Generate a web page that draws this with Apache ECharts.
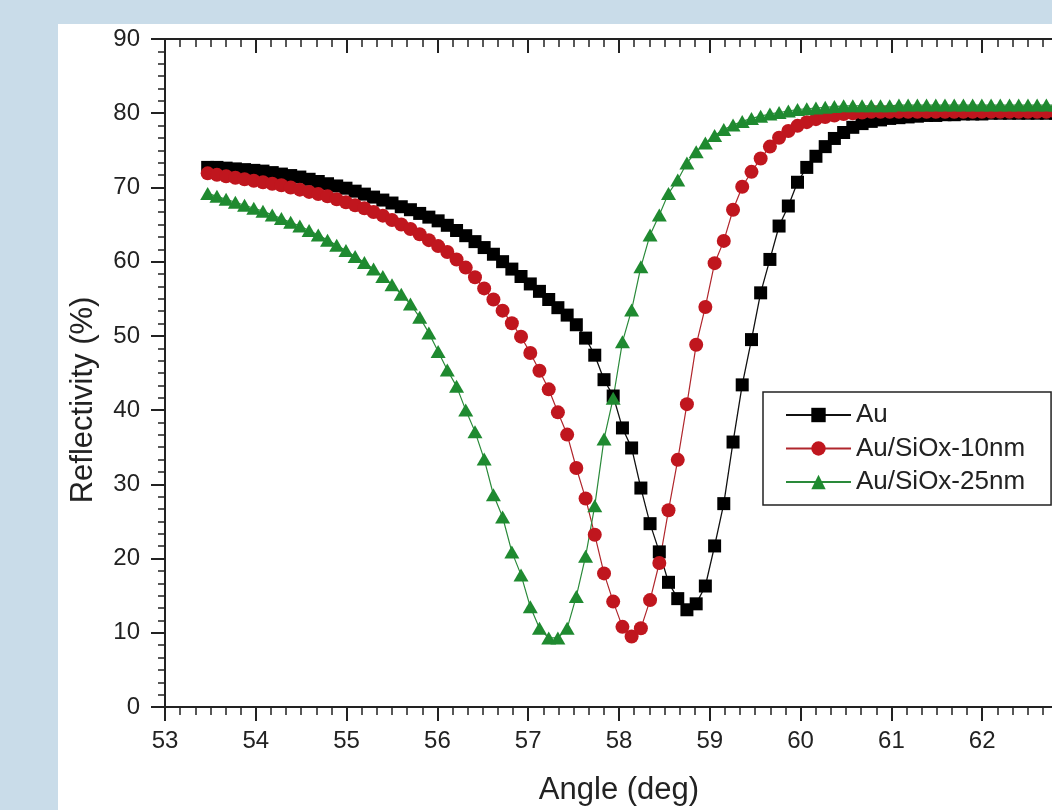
<!DOCTYPE html>
<html><head><meta charset="utf-8">
<script src="https://cdn.jsdelivr.net/npm/echarts@6/dist/echarts.min.js"></script>
<style>html,body{margin:0;padding:0;background:#c9dce9;} #chart{width:1052px;height:810px;}</style>
</head><body><div id="chart"></div>
<script>
const angles = [53.470,53.572,53.673,53.775,53.876,53.978,54.079,54.181,54.282,54.384,
  54.485,54.587,54.688,54.790,54.891,54.993,55.094,55.196,55.297,55.399,
  55.500,55.602,55.703,55.805,55.906,56.008,56.109,56.211,56.312,56.414,
  56.515,56.617,56.718,56.820,56.921,57.023,57.124,57.226,57.327,57.429,
  57.530,57.632,57.733,57.835,57.936,58.038,58.139,58.241,58.342,58.444,
  58.545,58.647,58.748,58.850,58.951,59.053,59.154,59.256,59.357,59.459,
  59.560,59.662,59.763,59.865,59.966,60.068,60.169,60.271,60.372,60.474,
  60.575,60.677,60.778,60.880,60.981,61.083,61.184,61.286,61.387,61.489,
  61.590,61.692,61.793,61.895,61.996,62.098,62.199,62.301,62.402,62.504,
  62.605,62.707,62.808,62.910,63.011,63.113];
const seriesNames = ['Au', 'Au/SiOx-10nm', 'Au/SiOx-25nm'];
const reflAu = [72.7,72.7,72.6,72.5,72.4,72.3,72.2,72.0,71.8,71.6,71.4,71.1,70.8,70.5,70.2,
  69.9,69.5,69.1,68.7,68.3,67.9,67.4,67.0,66.5,66.0,65.5,64.9,64.2,63.5,62.7,61.9,61.0,60.0,59.0,58.0,
  57.0,56.0,54.9,53.8,52.8,51.5,49.7,47.4,44.1,41.9,37.6,34.9,29.5,24.7,20.9,16.8,14.6,13.1,13.9,16.3,
  21.7,27.4,35.7,43.4,49.5,55.8,60.3,64.8,67.5,70.7,72.7,74.2,75.5,76.6,77.4,78.1,78.6,78.9,79.1,79.3,
  79.4,79.5,79.6,79.7,79.7,79.8,79.8,79.9,79.9,79.9,80.0,80.0,80.0,80.0,80.0,80.0,80.0,80.0,80.0,80.0,80.0];
const reflAu10 = [71.9,71.7,71.5,71.3,71.1,70.9,70.7,70.5,70.3,70.0,69.7,69.4,69.1,68.8,68.4,
  68.0,67.6,67.2,66.7,66.2,65.6,65.0,64.4,63.7,62.9,62.1,61.3,60.3,59.2,57.9,56.4,54.9,53.4,51.7,49.9,
  47.7,45.3,42.8,39.7,36.7,32.2,28.1,23.2,18.0,14.2,10.8,9.5,10.6,14.4,19.4,26.5,33.3,40.8,48.8,53.9,
  59.8,62.8,67.0,70.1,72.1,73.9,75.5,76.7,77.6,78.3,78.8,79.2,79.5,79.7,79.9,80.0,80.1,80.2,80.2,80.2,
  80.2,80.2,80.2,80.2,80.2,80.2,80.2,80.2,80.2,80.2,80.2,80.2,80.2,80.2,80.2,80.2,80.2,80.2,80.2,80.2,80.2];
const reflAu25 = [69.2,68.8,68.4,68.0,67.6,67.2,66.8,66.3,65.8,65.3,64.8,64.2,63.6,62.9,62.2,
  61.5,60.7,59.9,59.0,58.0,56.9,55.6,54.3,52.5,50.4,47.9,45.4,43.2,40.0,37.1,33.4,28.6,25.6,20.9,17.8,
  13.5,10.6,9.3,9.3,10.6,14.9,20.3,27.1,36.1,41.6,49.2,53.5,59.3,63.6,66.3,69.2,71.0,73.3,74.8,76.0,
  77.0,77.8,78.4,78.9,79.3,79.6,79.9,80.1,80.3,80.5,80.6,80.7,80.8,80.9,81.0,81.0,81.0,81.0,81.0,81.0,
  81.1,81.1,81.1,81.1,81.1,81.1,81.1,81.1,81.1,81.1,81.1,81.1,81.1,81.1,81.1,81.1,81.1,81.1,81.1,81.1,81.1];

const FONT = '"Liberation Sans", Arial, sans-serif';
const INK = '#222';
const pairs = arr => angles.map((a, i) => [a, arr[i]]);

const chart = echarts.init(document.getElementById('chart'), null, {renderer: 'canvas'});
const xCommon = {
  type: 'value', min: 53, max: 63, interval: 1,
  splitLine: {show: false},
  axisLine: {show: true, onZero: false, lineStyle: {color: INK, width: 2}},
  minorSplitLine: {show: false}
};
chart.setOption({
  animation: false,
  backgroundColor: '#c9dce9',
  textStyle: {fontFamily: FONT, color: INK},
  graphic: [{type: 'rect', z: -100, silent: true, shape: {x: 58, y: 24, width: 1100, height: 900}, style: {fill: '#ffffff'}}],
  grid: {left: 165, top: 39, bottom: 103, width: 908, containLabel: false, outerBoundsMode: 'none'},
  legend: {
    data: seriesNames, orient: 'vertical', left: 763, top: 392,
    itemWidth: 65, itemHeight: 18, itemGap: 7.5,
    padding: [10, 26, 10, 22], borderColor: INK, borderWidth: 1.5, backgroundColor: '#fff',
    textStyle: {fontSize: 26, color: INK, lineHeight: 26, fontFamily: FONT}
  },
  xAxis: [
    Object.assign({}, xCommon, {
      position: 'bottom',
      axisTick: {show: true, inside: false, length: 14, lineStyle: {color: INK, width: 2}},
      minorTick: {show: true, splitNumber: 6, length: 8, lineStyle: {color: INK, width: 1.5}},
      axisLabel: {fontSize: 24, color: INK, margin: 22, fontFamily: FONT},
      name: 'Angle (deg)', nameLocation: 'middle', nameGap: 68,
      nameTextStyle: {fontSize: 31, color: INK, fontFamily: FONT}
    }),
    Object.assign({}, xCommon, {
      position: 'top',
      axisTick: {show: true, inside: true, length: 14, lineStyle: {color: INK, width: 2}},
      minorTick: {show: true, splitNumber: 6, length: 8, lineStyle: {color: INK, width: 1.5}},
      axisLabel: {show: false}
    })
  ],
  yAxis: {
    type: 'value', min: 0, max: 90, interval: 10,
    splitLine: {show: false},
    axisLine: {show: true, onZero: false, lineStyle: {color: INK, width: 2}},
    axisTick: {show: true, inside: false, length: 14, lineStyle: {color: INK, width: 2}},
    minorTick: {show: true, splitNumber: 6, length: 7, lineStyle: {color: INK, width: 1.5}},
    axisLabel: {fontSize: 24, color: INK, margin: 25, fontFamily: FONT},
    name: 'Reflectivity (%)', nameLocation: 'middle', nameGap: 66,
    nameTextStyle: {fontSize: 31, color: INK, fontFamily: FONT, padding: [0, 54, 0, 0]}
  },
  series: [
    {name: seriesNames[0], type: 'line', data: pairs(reflAu), symbol: 'rect', symbolSize: 13,
     itemStyle: {color: '#000000'}, lineStyle: {color: '#111111', width: 1.3}},
    {name: seriesNames[1], type: 'line', data: pairs(reflAu10), symbol: 'circle', symbolSize: 14,
     itemStyle: {color: '#c0161e'}, lineStyle: {color: '#b0262c', width: 1.2}},
    {name: seriesNames[2], type: 'line', data: pairs(reflAu25), symbol: 'triangle', symbolSize: [15, 13],
     itemStyle: {color: '#1f8a30'}, lineStyle: {color: '#2a8a3a', width: 1.2}}
  ]
});
</script></body></html>
